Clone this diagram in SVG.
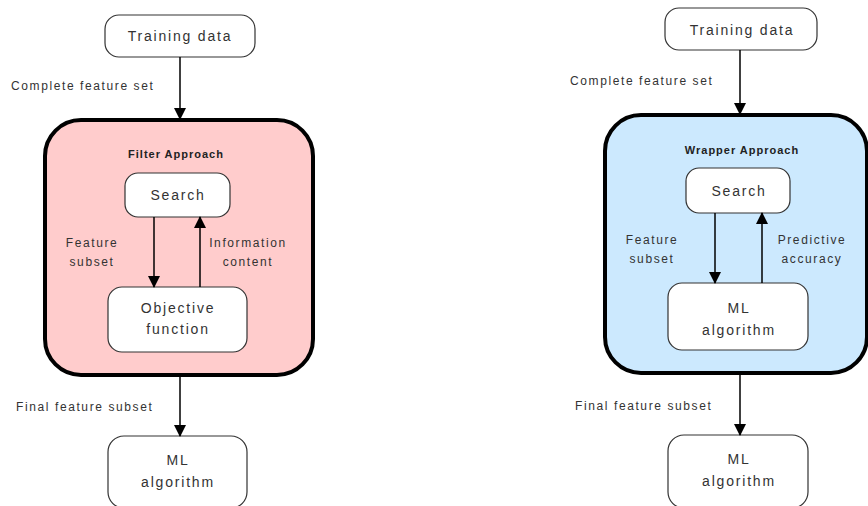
<svg xmlns="http://www.w3.org/2000/svg" width="868" height="506" viewBox="0 0 868 506">
  <defs>
    <marker id="arrow" markerUnits="userSpaceOnUse" markerWidth="12" markerHeight="14" refX="11" refY="6" orient="auto">
      <path d="M0,0 L12,6 L0,12 Z" fill="#000"/>
    </marker>
    <style>
      text { font-family: "Liberation Sans", Arial, sans-serif; fill: #333; }
      .node { fill: #fff; stroke: #333; stroke-width: 1.2; }
      .panel { stroke: #000; stroke-width: 4; }
      .filter { fill: #ffcccc; }
      .wrapper { fill: #cce9fe; }
      .lbl { font-size: 14px; letter-spacing: 1.8px; text-anchor: middle; }
      .edge { font-size: 12px; letter-spacing: 1.6px; }
      .mid { text-anchor: middle; }
      .title { font-size: 11px; font-weight: bold; letter-spacing: 1px; text-anchor: middle; fill: #222; }
      .conn line { stroke: #000; stroke-width: 1.5; marker-end: url(#arrow); }
    </style>
  </defs>
  <rect width="868" height="506" fill="#fff"/>

  <!-- Filter approach -->
  <g id="filter-panel">
    <rect class="panel filter" x="45" y="120" width="268" height="255" rx="36"/>
    <text class="title" x="176" y="158">Filter Approach</text>
  </g>
  <g id="filter-training">
    <rect class="node" x="105" y="15" width="150" height="42" rx="14"/>
    <text class="lbl" x="180" y="41">Training data</text>
  </g>
  <g id="filter-search">
    <rect class="node" x="125" y="173" width="105" height="44" rx="13"/>
    <text class="lbl" x="178" y="200">Search</text>
  </g>
  <g id="filter-objective">
    <rect class="node" x="108" y="287" width="139" height="65" rx="14"/>
    <text class="lbl" x="178" y="313">Objective</text>
    <text class="lbl" x="178" y="334">function</text>
  </g>
  <g id="filter-ml">
    <rect class="node" x="108" y="436" width="139" height="72" rx="16"/>
    <text class="lbl" x="178" y="465">ML</text>
    <text class="lbl" x="178" y="487">algorithm</text>
  </g>

  <!-- Wrapper approach -->
  <g id="wrapper-panel">
    <rect class="panel wrapper" x="605" y="115" width="262" height="258" rx="36"/>
    <text class="title" x="742" y="154">Wrapper Approach</text>
  </g>
  <g id="wrapper-training">
    <rect class="node" x="665" y="8" width="152" height="42" rx="14"/>
    <text class="lbl" x="742" y="35">Training data</text>
  </g>
  <g id="wrapper-search">
    <rect class="node" x="686" y="168" width="104" height="45" rx="13"/>
    <text class="lbl" x="739" y="196">Search</text>
  </g>
  <g id="wrapper-ml-inner">
    <rect class="node" x="668" y="283" width="140" height="67" rx="14"/>
    <text class="lbl" x="739" y="313">ML</text>
    <text class="lbl" x="739" y="335">algorithm</text>
  </g>
  <g id="wrapper-ml">
    <rect class="node" x="668" y="435" width="140" height="73" rx="16"/>
    <text class="lbl" x="739" y="464">ML</text>
    <text class="lbl" x="739" y="486">algorithm</text>
  </g>

  <!-- Connectors -->
  <g class="conn" id="connectors">
    <line x1="180" y1="57" x2="180" y2="119"/>
    <line x1="154" y1="217" x2="154" y2="287"/>
    <line x1="200" y1="287" x2="200" y2="217"/>
    <line x1="180" y1="377" x2="180" y2="436"/>

    <line x1="740" y1="50" x2="740" y2="114"/>
    <line x1="715" y1="213" x2="715" y2="283"/>
    <line x1="762" y1="283" x2="762" y2="213"/>
    <line x1="740" y1="375" x2="740" y2="435"/>
  </g>

  <!-- Connector labels -->
  <g id="edge-labels">
    <text class="edge" x="11" y="90">Complete feature set</text>
    <text class="edge mid" x="92" y="247">Feature</text>
    <text class="edge mid" x="92" y="266">subset</text>
    <text class="edge mid" x="248" y="247">Information</text>
    <text class="edge mid" x="248" y="266">content</text>
    <text class="edge" x="16" y="411">Final feature subset</text>

    <text class="edge" x="570" y="85">Complete feature set</text>
    <text class="edge mid" x="652" y="244">Feature</text>
    <text class="edge mid" x="652" y="263">subset</text>
    <text class="edge mid" x="812" y="244">Predictive</text>
    <text class="edge mid" x="812" y="263">accuracy</text>
    <text class="edge" x="575" y="410">Final feature subset</text>
  </g>
</svg>
